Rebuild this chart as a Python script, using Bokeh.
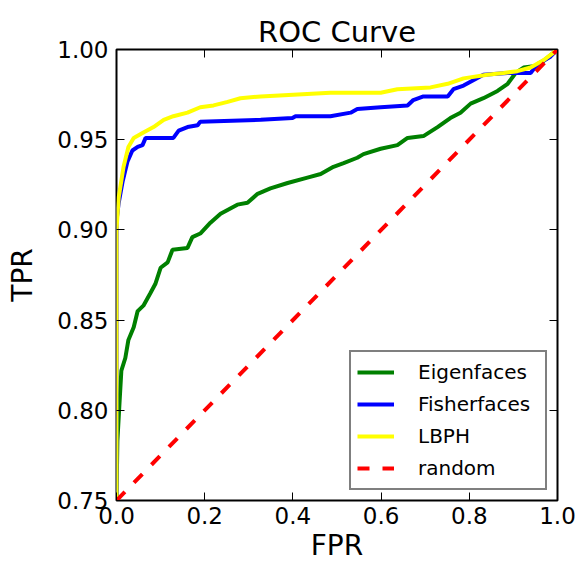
from bokeh.plotting import figure
from bokeh.models import (LinearAxis, FixedTicker, PrintfTickFormatter, Range1d,
                          Legend, LegendItem)
from bokeh.embed import file_html
from bokeh.resources import INLINE

# ---------------- data ----------------
eig_fpr = [0.0, 0.002, 0.007, 0.011, 0.020, 0.027, 0.039, 0.048, 0.061, 0.077, 0.088,
           0.100, 0.116, 0.127, 0.161, 0.172, 0.190, 0.213, 0.236, 0.274, 0.297, 0.320,
           0.349, 0.388, 0.433, 0.463, 0.492, 0.515, 0.546, 0.560, 0.599, 0.637, 0.660,
           0.696, 0.728, 0.757, 0.780, 0.803, 0.832, 0.864, 0.887, 0.905, 0.923, 0.955, 1.0]
eig_tpr = [0.75, 0.783, 0.805, 0.822, 0.829, 0.839, 0.846, 0.855, 0.858, 0.865, 0.870,
           0.879, 0.882, 0.889, 0.890, 0.896, 0.898, 0.904, 0.909, 0.914, 0.915, 0.920,
           0.923, 0.926, 0.929, 0.931, 0.935, 0.937, 0.940, 0.942, 0.945, 0.947, 0.951,
           0.952, 0.957, 0.962, 0.965, 0.970, 0.973, 0.977, 0.981, 0.987, 0.990, 0.991, 1.0]

fis_fpr = [0.0, 0.0, 0.005, 0.014, 0.025, 0.036, 0.048, 0.059, 0.066, 0.077, 0.129, 0.141,
           0.161, 0.184, 0.190, 0.327, 0.399, 0.406, 0.485, 0.531, 0.546, 0.599, 0.660,
           0.673, 0.696, 0.751, 0.764, 0.787, 0.832, 0.887, 0.939, 0.955, 0.984, 1.0]
fis_tpr = [0.75, 0.905, 0.915, 0.927, 0.938, 0.944, 0.946, 0.947, 0.951, 0.951, 0.951, 0.955,
           0.957, 0.958, 0.960, 0.961, 0.962, 0.963, 0.963, 0.965, 0.967, 0.968, 0.969,
           0.972, 0.974, 0.974, 0.978, 0.980, 0.986, 0.987, 0.987, 0.992, 0.996, 1.0]

lbp_fpr = [0.0, 0.0, 0.005, 0.016, 0.027, 0.039, 0.061, 0.084, 0.107, 0.129, 0.161, 0.190,
           0.220, 0.252, 0.281, 0.327, 0.485, 0.599, 0.637, 0.712, 0.751, 0.787, 0.841,
           0.878, 0.909, 0.939, 0.968, 1.0]
lbp_tpr = [0.75, 0.90, 0.918, 0.935, 0.946, 0.951, 0.954, 0.957, 0.961, 0.963, 0.965, 0.968,
           0.969, 0.971, 0.973, 0.974, 0.976, 0.976, 0.978, 0.979, 0.981, 0.984, 0.986,
           0.987, 0.988, 0.990, 0.994, 1.0]

rand_fpr = [0.0, 1.0]
rand_tpr = [0.75, 1.0]

x_ticks = [0.0, 0.2, 0.4, 0.6, 0.8, 1.0]
y_ticks = [0.75, 0.80, 0.85, 0.90, 0.95, 1.00]

FONT = "DejaVu Sans"

p = figure(width=576, height=568, output_backend="svg", toolbar_location=None,
           x_range=Range1d(0, 1), y_range=Range1d(0.75, 1.0),
           min_border_left=116, min_border_right=19, min_border_top=49,
           min_border_bottom=68, title="ROC Curve")
p.grid.visible = False
p.outline_line_color = "black"
p.outline_line_width = 2
p.background_fill_color = "white"
p.border_fill_color = "white"

p.title.text_font = FONT
p.title.text_font_size = "29px"
p.title.text_font_style = "normal"
p.title.align = "center"
p.title.text_color = "black"
p.title.standoff = 2

for ax, ticks, fmt in ((p.xaxis[0], x_ticks, "%.1f"), (p.yaxis[0], y_ticks, "%.2f")):
    ax.ticker = FixedTicker(ticks=ticks)
    ax.formatter = PrintfTickFormatter(format=fmt)
    ax.major_tick_in = 8
    ax.major_tick_out = 0
    ax.minor_tick_in = 0
    ax.minor_tick_out = 0
    ax.major_tick_line_color = "black"
    ax.major_tick_line_width = 1
    ax.axis_line_color = None
    ax.major_label_text_font = FONT
    ax.major_label_text_font_size = "23px"
    ax.major_label_text_color = "black"
    ax.axis_label_text_font = FONT
    ax.axis_label_text_font_size = "28px"
    ax.axis_label_text_font_style = "normal"
    ax.axis_label_text_color = "black"

p.xaxis[0].axis_label = "FPR"
p.yaxis[0].axis_label = "TPR"
p.xaxis[0].major_label_standoff = 6
p.yaxis[0].major_label_standoff = 8
p.xaxis[0].axis_label_standoff = 2
p.yaxis[0].axis_label_standoff = 15

# tick marks (no labels) on the top and right spines
for loc, ticks in (("right", y_ticks), ("above", x_ticks)):
    ax = LinearAxis(ticker=FixedTicker(ticks=ticks), major_tick_in=8, major_tick_out=0,
                    minor_tick_in=0, minor_tick_out=0, axis_line_color=None,
                    major_tick_line_color="black", major_label_text_color=None,
                    major_label_text_font_size="0px", major_label_standoff=0)
    p.add_layout(ax, loc)

r_eig = p.line(eig_fpr, eig_tpr, line_color="#008000", line_width=4)
r_fis = p.line(fis_fpr, fis_tpr, line_color="#0000ff", line_width=4)
r_lbp = p.line(lbp_fpr, lbp_tpr, line_color="#ffff00", line_width=4)
r_rnd = p.line(rand_fpr, rand_tpr, line_color="#ff0000", line_width=4, line_dash="12 13")

legend = Legend(items=[LegendItem(label="Eigenfaces", renderers=[r_eig]),
                       LegendItem(label="Fisherfaces", renderers=[r_fis]),
                       LegendItem(label="LBPH", renderers=[r_lbp]),
                       LegendItem(label="random", renderers=[r_rnd])],
                location="bottom_right", margin=10, padding=6, spacing=4,
                glyph_width=37, glyph_height=28, label_height=28, label_width=121,
                label_standoff=24, label_text_font=FONT, label_text_font_size="20px",
                label_text_color="black", border_line_color="black",
                border_line_width=2, background_fill_color="white",
                background_fill_alpha=1.0)
p.add_layout(legend, "center")

open("out.html", "w").write(file_html(p, INLINE))
